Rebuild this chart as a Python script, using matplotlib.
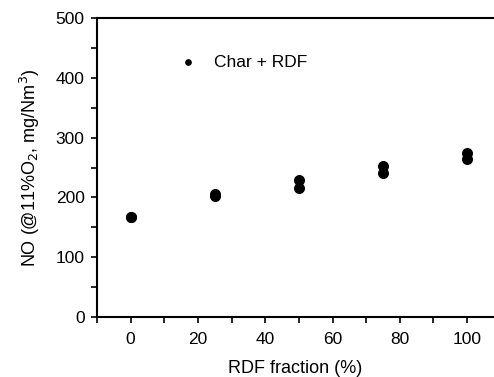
import matplotlib
matplotlib.use("Agg")
import matplotlib.pyplot as plt
from matplotlib.ticker import MultipleLocator

plt.rcParams['font.family'] = ['Liberation Sans', 'DejaVu Sans']

rdf_fraction = [0, 0, 25, 25, 50, 50, 75, 75, 100, 100]
no_values = [167, 168, 203, 205, 229, 215, 253, 241, 275, 265]

fig = plt.figure(figsize=(4.94, 3.77), dpi=100)
ax = fig.add_axes([97/494, 1-317/377, 1-97/494, (317-18)/377])

ax.scatter(rdf_fraction, no_values, s=48, color='black', zorder=3, label='Char + RDF')

ax.set_xlim(-10, 108)
ax.set_ylim(0, 500)
ax.xaxis.set_major_locator(MultipleLocator(20))
ax.xaxis.set_minor_locator(MultipleLocator(10))
ax.yaxis.set_major_locator(MultipleLocator(100))
ax.yaxis.set_minor_locator(MultipleLocator(50))
ax.tick_params(which='both', direction='out', length=4, width=1.2, labelsize=12.5, color='black')
ax.tick_params(axis='x', which='major', pad=7)
ax.tick_params(axis='y', which='major', pad=5)
for s in ['left', 'bottom', 'top']:
    ax.spines[s].set_linewidth(1.5)
ax.spines['right'].set_visible(False)

ax.set_xlabel('RDF fraction (%)', fontsize=13, labelpad=9)
ax.set_ylabel('NO (@11%O$_2$, mg/Nm$^3$)', fontsize=13, labelpad=10)

leg = ax.legend(loc='upper left', bbox_to_anchor=(0.145, 0.93), frameon=False,
                fontsize=12.5, markerscale=0.55, handletextpad=0.5, scatterpoints=1)

fig.savefig('out.png', dpi=100)
